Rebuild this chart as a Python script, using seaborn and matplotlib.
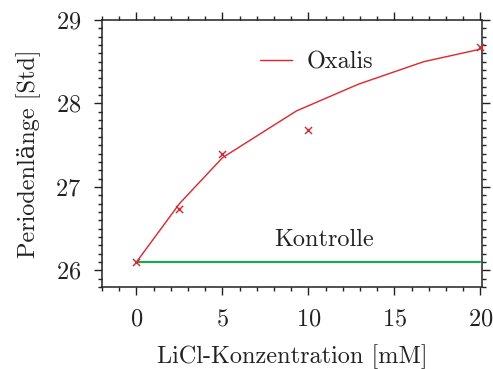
import matplotlib
matplotlib.use("Agg")
import matplotlib.pyplot as plt
import seaborn as sns
import pandas as pd
from matplotlib.ticker import MultipleLocator

sns.set_theme(style="ticks")
plt.rcParams['font.family'] = ['cmr10', 'DejaVu Serif']
plt.rcParams['mathtext.fontset'] = 'cm'
plt.rcParams['axes.unicode_minus'] = False
plt.rcParams['axes.formatter.use_mathtext'] = True

# Measured points (markers)
meas_x = [0, 2.5, 5, 10, 20]
meas_y = [26.10, 26.74, 27.40, 27.68, 28.68]
# Fit line (Oxalis)
fit_x = [0, 2.5, 5, 9.3, 12.9, 16.7, 20]
fit_y = [26.10, 26.80, 27.35, 27.91, 28.23, 28.50, 28.65]
# Control
ctrl_x = [0, 20]
ctrl_y = [26.10, 26.10]

red = "#e8222a"
green = "#1ea55a"
fs = 17.5

fig = plt.figure(figsize=(4.93, 3.69), dpi=100)
ax = fig.add_axes([0.207, 0.222, 0.771, 0.724])

fit_df = pd.DataFrame({"x": fit_x, "y": fit_y})
ctrl_df = pd.DataFrame({"x": ctrl_x, "y": ctrl_y})

sns.lineplot(data=ctrl_df, x="x", y="y", ax=ax, color=green, linewidth=1.6)
sns.lineplot(data=fit_df, x="x", y="y", ax=ax, color=red, linewidth=1.0, label="Oxalis")
ax.scatter(meas_x, meas_y, marker="x", color=red, s=26, linewidths=1.0, zorder=5, clip_on=False)

ax.set_xlim(-2, 20.1)
ax.set_ylim(25.8, 29)
ax.xaxis.set_major_locator(MultipleLocator(5))
ax.xaxis.set_minor_locator(MultipleLocator(1))
ax.yaxis.set_major_locator(MultipleLocator(1))
ax.yaxis.set_minor_locator(MultipleLocator(0.1))

ax.tick_params(which="both", direction="out", top=True, right=True,
               labeltop=False, labelright=False, colors="#222222", width=1.0)
ax.tick_params(which="major", length=6, labelsize=fs)
ax.tick_params(axis="x", which="major", pad=9)
ax.tick_params(axis="y", which="major", pad=9)
ax.tick_params(which="minor", length=3.2)
for s in ax.spines.values():
    s.set_linewidth(1.1)
    s.set_color("#222222")
    s.set_visible(True)

ax.set_xlabel("LiCl-Konzentration [mM]", fontsize=fs, color="#222222", labelpad=10)
ax.set_ylabel("Periodenlänge [Std]", fontsize=fs, color="#222222", labelpad=10)

ax.text(10.9, 26.29, "Kontrolle", fontsize=fs, color="#222222", ha="center", va="baseline")

leg = ax.legend(loc="upper center", bbox_to_anchor=(0.565, 0.965), frameon=False,
                fontsize=fs, handlelength=1.3, handletextpad=0.6)
for t in leg.get_texts():
    t.set_color("#222222")

fig.savefig("out.png", dpi=100)
